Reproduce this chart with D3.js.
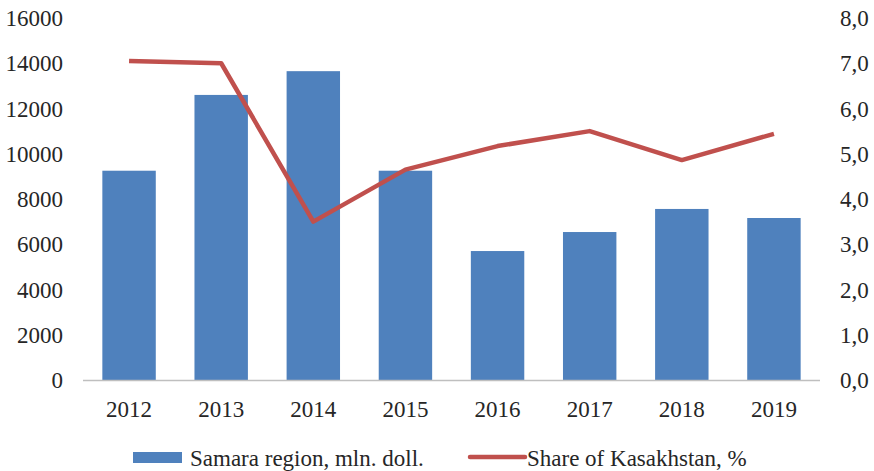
<!DOCTYPE html>
<html><head><meta charset="utf-8">
<script src="https://cdn.jsdelivr.net/npm/d3@7"></script>
<style>body{margin:0;background:#fff} text{font-family:"Liberation Serif","DejaVu Serif",serif;}</style>
</head><body>
<svg id="c" width="874" height="471"></svg>
<script>
const years = ["2012","2013","2014","2015","2016","2017","2018","2019"];
const samara = [9250, 12600, 13650, 9250, 5700, 6540, 7560, 7160];
const share = [7.05, 7.0, 3.5, 4.65, 5.17, 5.5, 4.86, 5.44];
const leftTicks = [0,2000,4000,6000,8000,10000,12000,14000,16000];
const rightTicks = [0,1,2,3,4,5,6,7,8];
const seriesNames = ["Samara region, mln. doll.", "Share of Kasakhstan, %"];

const svg = d3.select("#c");
const fs = 23;
const x0 = 83, x1 = 820, yTop = 18, yBot = 380;
const x = d3.scaleBand().domain(years).range([x0, x1]).paddingInner(0.42).paddingOuter(0.21);
const yL = d3.scaleLinear().domain([0,16000]).range([yBot, yTop]);
const yR = d3.scaleLinear().domain([0,8]).range([yBot, yTop]);

svg.selectAll("rect.bar").data(samara).join("rect").attr("class","bar")
  .attr("x",(d,i)=>x(years[i])).attr("width",x.bandwidth())
  .attr("y",d=>yL(d)).attr("height",d=>yBot-yL(d)).attr("fill","#4F81BD");

svg.append("line").attr("x1",x0).attr("x2",x1).attr("y1",yBot+0.5).attr("y2",yBot+0.5)
  .attr("stroke","#BFBFBF").attr("stroke-width",1.5);

const line = d3.line().x((d,i)=>x(years[i])+x.bandwidth()/2).y(d=>yR(d));
svg.append("path").datum(share).attr("d",line).attr("fill","none")
  .attr("stroke","#C0504D").attr("stroke-width",4.5).attr("stroke-linejoin","round");

svg.selectAll("text.yl").data(leftTicks).join("text").attr("class","yl")
  .attr("x",63).attr("y",d=>yL(d)).attr("dy","0.35em").attr("text-anchor","end")
  .attr("font-size",fs).attr("fill","#262626").text(d=>d);
svg.selectAll("text.yr").data(rightTicks).join("text").attr("class","yr")
  .attr("x",840).attr("y",d=>yR(d)).attr("dy","0.35em").attr("text-anchor","start")
  .attr("font-size",fs).attr("fill","#262626").text(d=>d.toFixed(1).replace(".",","));
svg.selectAll("text.xl").data(years).join("text").attr("class","xl")
  .attr("x",d=>x(d)+x.bandwidth()/2).attr("y",409).attr("dy","0.35em").attr("text-anchor","middle")
  .attr("font-size",fs).attr("fill","#262626").text(d=>d);

const lg = svg.append("g");
lg.append("rect").attr("x",133).attr("y",452).attr("width",49).attr("height",11).attr("fill","#4F81BD");
lg.append("text").attr("x",190).attr("y",458).attr("dy","0.35em").attr("font-size",fs).attr("fill","#262626").text(seriesNames[0]);
lg.append("line").attr("x1",470).attr("x2",525).attr("y1",457).attr("y2",457).attr("stroke","#C0504D").attr("stroke-width",4.5).attr("stroke-linecap","round");
lg.append("text").attr("x",527).attr("y",458).attr("dy","0.35em").attr("font-size",fs).attr("fill","#262626").text(seriesNames[1]);
</script>
</body></html>
